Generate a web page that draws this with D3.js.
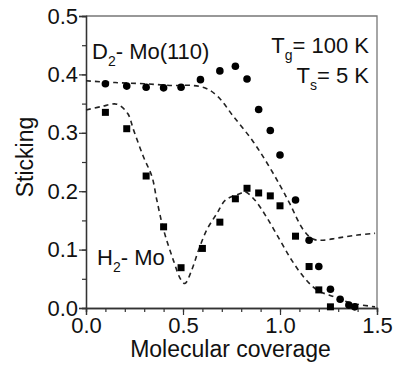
<!DOCTYPE html>
<html>
<head>
<meta charset="utf-8">
<script src="https://cdn.jsdelivr.net/npm/d3@7"></script>
<style>
  body { margin: 0; background: #fff; }
  svg { display: block; font-family: "Liberation Sans", Arial, sans-serif; }
</style>
</head>
<body>
<svg id="chart" width="399" height="365"></svg>
<script>
// D2 sticking (circles)
var d2X = [0.10, 0.21, 0.31, 0.40, 0.49, 0.59, 0.69, 0.77, 0.83, 0.89, 0.95, 1.00, 1.08, 1.15, 1.20, 1.26, 1.31, 1.355, 1.385];
var d2Y = [0.384, 0.380, 0.378, 0.377, 0.378, 0.391, 0.406, 0.414, 0.392, 0.340, 0.304, 0.262, 0.185, 0.116, 0.071, 0.032, 0.015, 0.005, 0.002];
// H2 sticking (squares)
var h2X = [0.10, 0.21, 0.31, 0.40, 0.49, 0.60, 0.69, 0.77, 0.83, 0.89, 0.95, 1.00, 1.08, 1.15, 1.20, 1.26];
var h2Y = [0.335, 0.307, 0.226, 0.139, 0.069, 0.102, 0.147, 0.187, 0.205, 0.197, 0.192, 0.175, 0.123, 0.071, 0.031, 0.002];
// dashed fit curves
var d2FitX = [0, 0.15, 0.30, 0.45, 0.55, 0.62, 0.68, 0.76, 0.855, 0.93, 1.0, 1.05, 1.12, 1.17, 1.22, 1.30, 1.40, 1.49];
var d2FitY = [0.389, 0.386, 0.384, 0.381, 0.381, 0.376, 0.362, 0.328, 0.288, 0.250, 0.210, 0.179, 0.134, 0.118, 0.116, 0.120, 0.125, 0.128];
var h2FitX = [0, 0.08, 0.16, 0.215, 0.245, 0.296, 0.34, 0.365, 0.40, 0.45, 0.49, 0.51, 0.545, 0.58, 0.623, 0.675, 0.72, 0.795, 0.82, 0.87, 0.93, 1.0, 1.06, 1.12, 1.19, 1.28, 1.36, 1.49];
var h2FitY = [0.339, 0.345, 0.349, 0.333, 0.305, 0.259, 0.225, 0.185, 0.134, 0.082, 0.048, 0.042, 0.065, 0.099, 0.134, 0.162, 0.185, 0.196, 0.199, 0.185, 0.156, 0.116, 0.082, 0.054, 0.031, 0.019, 0.009, 0.002];

var xTicks = [0, 0.5, 1.0, 1.5];
var yTicks = [0, 0.1, 0.2, 0.3, 0.4, 0.5];

var svg = d3.select("#chart"),
    mLeft = 86, mRight = 377, mTop = 16, mBottom = 308;

var x = d3.scaleLinear().domain([0, 1.5]).range([mLeft, mRight]);
var y = d3.scaleLinear().domain([0, 0.5]).range([mBottom, mTop]);

svg.append("rect").attr("width", 399).attr("height", 365).attr("fill", "#fff");

// frame top/right
svg.append("path")
    .attr("d", "M" + mLeft + "," + mTop + "H" + mRight + "V" + mBottom)
    .attr("fill", "none").attr("stroke", "#777").attr("stroke-width", 1.3);

// minor ticks
var xAxisMinor = d3.axisBottom(x).tickValues(d3.range(0, 1.51, 0.1)).tickSize(4).tickFormat("");
var yAxisMinor = d3.axisLeft(y).tickValues(d3.range(0, 0.51, 0.05)).tickSize(4).tickFormat("");
svg.append("g").attr("transform", "translate(0," + mBottom + ")").call(xAxisMinor);
svg.append("g").attr("transform", "translate(" + mLeft + ",0)").call(yAxisMinor);

var xAxis = d3.axisBottom(x).tickValues(xTicks).tickSize(7).tickPadding(2).tickFormat(d3.format(".1f"));
var yAxis = d3.axisLeft(y).tickValues(yTicks).tickSize(7).tickPadding(1).tickFormat(d3.format(".1f"));
svg.append("g").attr("class", "ax").attr("transform", "translate(0," + mBottom + ")").call(xAxis);
svg.append("g").attr("class", "ax").attr("transform", "translate(" + mLeft + ",0)").call(yAxis);

svg.selectAll(".domain").attr("stroke", "#333").attr("stroke-width", 1.3);
svg.selectAll(".tick line").attr("stroke", "#333").attr("stroke-width", 1.2);
svg.selectAll(".ax text").attr("font-size", 22).attr("fill", "#111")
    .attr("font-family", "Liberation Sans, Arial, sans-serif");

// axis titles
svg.append("text").attr("x", (mLeft + mRight) / 2 - 1).attr("y", 357)
    .attr("text-anchor", "middle").attr("font-size", 23).attr("fill", "#111")
    .text("Molecular coverage");
svg.append("text").attr("transform", "translate(33,157) rotate(-90)")
    .attr("text-anchor", "middle").attr("font-size", 23).attr("fill", "#111")
    .text("Sticking");

// dashed fits
var line = d3.line().x(function (d) { return x(d[0]); }).y(function (d) { return y(d[1]); })
    .curve(d3.curveCatmullRom);
[[d2FitX, d2FitY], [h2FitX, h2FitY]].forEach(function (s) {
    svg.append("path")
        .datum(d3.zip(s[0], s[1]))
        .attr("d", line)
        .attr("fill", "none").attr("stroke", "#222")
        .attr("stroke-width", 1.6).attr("stroke-dasharray", "5,4");
});

// markers
svg.selectAll(".dot").data(d3.zip(d2X, d2Y)).enter().append("circle")
    .attr("cx", function (d) { return x(d[0]); })
    .attr("cy", function (d) { return y(d[1]); })
    .attr("r", 3.8).attr("fill", "#000");
var sq = 7;
svg.selectAll(".sq").data(d3.zip(h2X, h2Y)).enter().append("rect")
    .attr("x", function (d) { return x(d[0]) - sq / 2; })
    .attr("y", function (d) { return y(d[1]) - sq / 2; })
    .attr("width", sq).attr("height", sq).attr("fill", "#000");

// labels
var t1 = svg.append("text").attr("x", 92).attr("y", 59).attr("font-size", 22).attr("fill", "#111");
t1.append("tspan").text("D");
t1.append("tspan").attr("font-size", 14).attr("dy", 7).text("2");
t1.append("tspan").attr("dy", -7).text("- Mo(110)");

var t2 = svg.append("text").attr("x", 97).attr("y", 265).attr("font-size", 22).attr("fill", "#111");
t2.append("tspan").text("H");
t2.append("tspan").attr("font-size", 14).attr("dy", 7).text("2");
t2.append("tspan").attr("dy", -7).text("- Mo");

var t3 = svg.append("text").attr("x", 369).attr("y", 53).attr("text-anchor", "end").attr("font-size", 22).attr("fill", "#111");
t3.append("tspan").text("T");
t3.append("tspan").attr("font-size", 14).attr("dy", 7).text("g");
t3.append("tspan").attr("dy", -7).text("= 100 K");

var t4 = svg.append("text").attr("x", 369).attr("y", 83).attr("text-anchor", "end").attr("font-size", 22).attr("fill", "#111");
t4.append("tspan").text("T");
t4.append("tspan").attr("font-size", 14).attr("dy", 7).text("s");
t4.append("tspan").attr("dy", -7).text("= 5 K");
</script>
</body>
</html>
